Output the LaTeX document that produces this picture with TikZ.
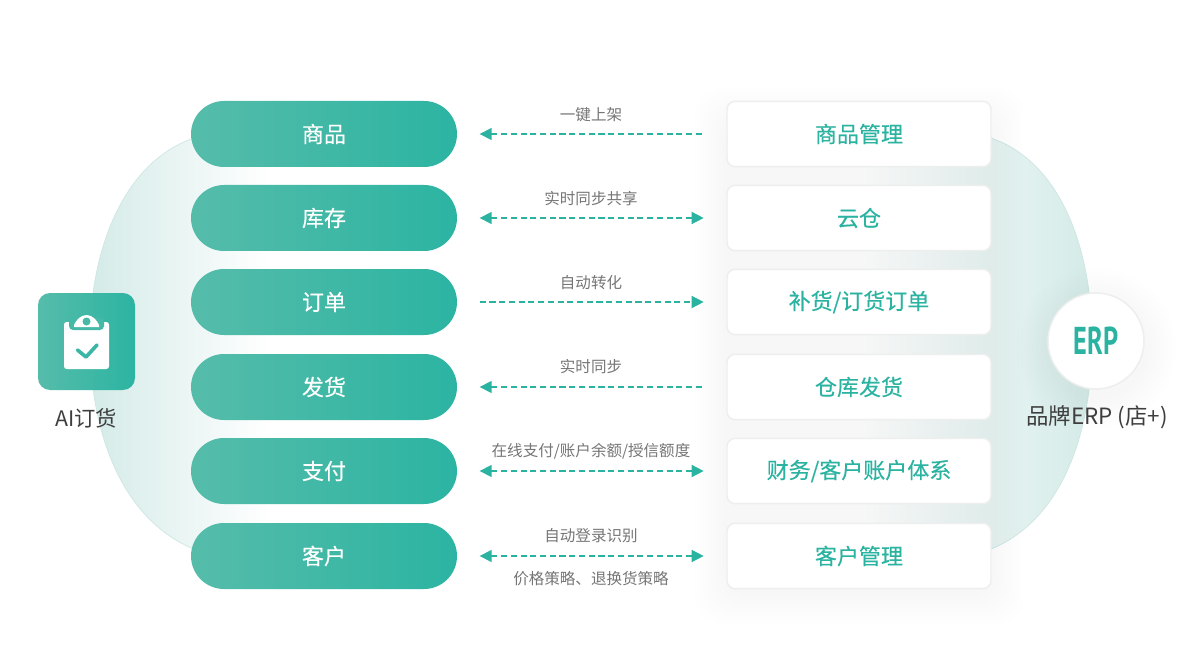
\documentclass[tikz,border=0pt]{standalone}
\usepackage{fontspec}
\usetikzlibrary{arrows.meta,calc}
\newfontfamily\erpfont{PT Sans}
\setmainfont{Noto Sans CJK SC}
\newfontfamily\medf{Noto Sans CJK SC}[FakeBold=0.3]
\definecolor{teal1}{HTML}{2BB3A1}
\definecolor{tealL}{HTML}{56BCAA}
\definecolor{tealR}{HTML}{2CB4A2}
\definecolor{blob}{HTML}{D4EBE8}
\definecolor{blobedge}{HTML}{CDE6E2}
\definecolor{edgec}{HTML}{EDEEEE}
\definecolor{labelc}{HTML}{767676}
\definecolor{capc}{HTML}{3E3E3E}
\tikzset{
  x=0.75pt,y=-0.75pt,
  pill/.style={rectangle,rounded corners=24.75pt,minimum width=199.5pt,minimum height=49.5pt,inner sep=0pt,outer sep=0pt,left color=tealL,right color=tealR,text=white,font=\medf\fontsize{16.5}{20}\selectfont},
  card/.style={rectangle,rounded corners=6pt,minimum width=198pt,minimum height=49pt,inner sep=0pt,outer sep=0pt,fill=white,draw=edgec,line width=1.1pt,text=teal1,font=\medf\fontsize{16.5}{20}\selectfont},
  lbl/.style={text=labelc,inner sep=0pt,font=\fontsize{11.65}{14}\selectfont},
  captext/.style={text=capc,inner sep=0pt,font=\fontsize{16}{19}\selectfont},
  link/.style={draw=teal1,line width=1.1pt,dash pattern=on 4.6pt off 2.7pt,shorten >=17pt,shorten <=17pt},
  head/.style={-{Triangle[length=9pt,width=9pt]}},
  backhead/.style={{Triangle[length=9pt,width=9pt]}-},
  bothhead/.style={{Triangle[length=9pt,width=9pt]}-{Triangle[length=9pt,width=9pt]}},
}
\begin{document}
\begin{tikzpicture}
\useasboundingbox[fill=white] (0,0) rectangle (1200,663);
% background blobs
\shade[left color=blob,right color=white]
  (270,135) -- (205,135) .. controls (130,152) and (90,240) .. (90,340)
  .. controls (90,445) and (130,530) .. (205,553) -- (270,553) -- cycle;
\draw[blobedge,line width=.5pt]
  (205,135) .. controls (130,152) and (90,240) .. (90,340)
  .. controls (90,445) and (130,530) .. (205,553);
\shade[right color=blob,left color=white]
  (860,135) -- (980,135) .. controls (1055,152) and (1092,240) .. (1092,340)
  .. controls (1092,445) and (1055,530) .. (980,553) -- (860,553) -- cycle;
\draw[blobedge,line width=.5pt]
  (980,135) .. controls (1055,152) and (1092,240) .. (1092,340)
  .. controls (1092,445) and (1055,530) .. (980,553);
% soft shadows
\foreach \e in {4,8,...,32}{
  \fill[black,opacity=.0045,rounded corners=20pt] (727-\e,120-\e) rectangle (991+\e,592+\e);
  \fill[black,opacity=.0045] (1096,348) circle[radius=48+\e];
}
% pills
\node[pill] (p1) at (324,134) {商品};
\node[pill] (p2) at (324,218) {库存};
\node[pill] (p3) at (324,302) {订单};
\node[pill] (p4) at (324,387) {发货};
\node[pill] (p5) at (324,471) {支付};
\node[pill] (p6) at (324,556) {客户};
% cards
\node[card] (c1) at (859,134) {商品管理};
\node[card] (c2) at (859,218) {云仓};
\node[card] (c3) at (859,302) {补货/订货订单};
\node[card] (c4) at (859,387) {仓库发货};
\node[card] (c5) at (859,471) {财务/客户账户体系};
\node[card] (c6) at (859,556) {客户管理};
% connectors
\draw[link,backhead,shorten >=16.5pt] (p1.east) -- (c1.west);
\draw[link,bothhead,shorten >=17.5pt] (p2.east) -- (c2.west);
\draw[link,head,shorten >=17.5pt] (p3.east) -- (c3.west);
\draw[link,backhead,shorten >=18.5pt] (p4.east) -- (c4.west);
\draw[link,bothhead,shorten >=17.5pt] (p5.east) -- (c5.west);
\draw[link,bothhead,shorten >=17.5pt] (p6.east) -- (c6.west);
% labels
\node[lbl] (l1) at (591,114.5) {一键上架};
\node[lbl] (l2) at (591,198.5) {实时同步共享};
\node[lbl] (l3) at (591,282.5) {自动转化};
\node[lbl] (l4) at (591,366.5) {实时同步};
\node[lbl] (l5) at (591,451) {在线支付/账户余额/授信额度};
\node[lbl] (l6) at (591,535.5) {自动登录识别};
\node[lbl] (l7) at (591,578.5) {价格策略、退换货策略};
% AI icon
\shade[rounded corners=9pt,shading angle=135,left color=tealL,right color=tealR,middle color=tealL!50!tealR] (38,293) rectangle (135,390);
\fill[white,rounded corners=2pt] (64,322) rectangle (109,369);
\fill[tealL!60!tealR,rounded corners=3pt] (69,318) rectangle (104,330);
\fill[white] (74,327) -- (74,325) .. controls (76,320) and (81,315) .. (86.5,315)
  .. controls (92,315) and (97,320) .. (99,325) -- (99,327) -- cycle;
\fill[tealL!60!tealR] (86.5,321.5) circle[radius=4];
\draw[tealL!30!tealR,line width=2.7pt,line cap=round,line join=round] (77.5,350) -- (86,357) -- (97,345);
\node[captext] (ai) at (86,418) {AI订货};
% ERP
\node[circle,fill=white,draw=edgec,line width=1.1pt,minimum size=72pt,inner sep=0pt] (erp) at (1096,341)
  {\scalebox{.76}[1.12]{\textcolor{teal1}{\erpfont\bfseries\fontsize{26}{30}\selectfont ERP}}};
\node[captext,font=\fontsize{16.8}{19}\selectfont] (erpcap) at (1097,417) {品牌ERP (店+)};
\end{tikzpicture}
\end{document}
